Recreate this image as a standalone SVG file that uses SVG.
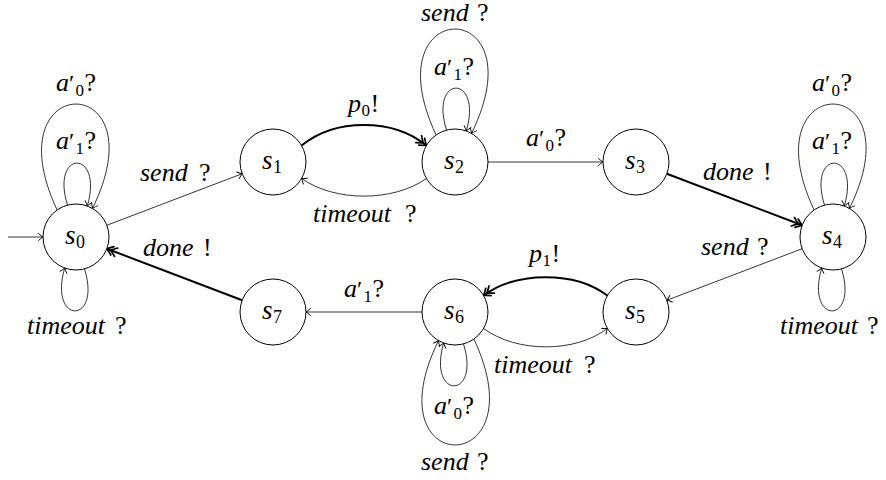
<svg xmlns="http://www.w3.org/2000/svg" width="886" height="480" viewBox="0 0 886 480">
<style>
.n{fill:#fff;stroke:#000;stroke-width:1}
.e{fill:none;stroke:#000;stroke-width:0.8;marker-end:url(#ar)}
.t{fill:none;stroke:#000;stroke-width:2;marker-end:url(#at)}
</style>
<defs>
<marker id="ar" markerUnits="userSpaceOnUse" markerWidth="12" markerHeight="12" viewBox="-11 -6 12 12" refX="0" refY="0" orient="auto" overflow="visible">
<path d="M-4.5,-3.5 Q-1.5,-0.8 0,0 Q-1.5,0.8 -4.5,3.5" fill="none" stroke="#000" stroke-width="0.9" stroke-linecap="round"/>
</marker>
<marker id="at" markerUnits="userSpaceOnUse" markerWidth="14" markerHeight="14" viewBox="-12 -7 14 14" refX="0" refY="0" orient="auto" overflow="visible">
<path d="M-6,-4.5 Q-2,-1.2 0,0 Q-2,1.2 -6,4.5 M-10,-4.5 Q-6,-1.2 -4,0 Q-6,1.2 -10,4.5" fill="none" stroke="#000" stroke-width="1.7" stroke-linecap="round"/>
</marker>
</defs>
<rect width="886" height="480" fill="#fff"/>
<g id="connectors">
<path class="e" d="M8,237 L43,237"/>
<path class="e" d="M106.8,225.3 L242.2,173.7"/>
<path class="t" d="M301.6,145.5 C335,118 393,118 426.4,145.5"/>
<path class="e" d="M426.4,178.5 C393,202 335,202 301.6,178.5"/>
<path class="e" d="M488,162 L603,162"/>
<path class="t" d="M666.8,173.7 L802.2,225.3"/>
<path class="e" d="M802.2,248.7 L666.8,300.3"/>
<path class="t" d="M607.4,295.5 C575,271 517,271 483.6,295.5"/>
<path class="e" d="M483.6,328.5 C517,353 575,353 607.4,328.5"/>
<path class="e" d="M422,312 L306,312"/>
<path class="t" d="M242.2,300.3 L106.8,248.7"/>
<g transform="translate(76,237)">
<path class="e" d="M-8.5,-31.9 C-26,-88 28,-88 11.3,-31"/>
<path class="e" d="M-18.9,-27 C-85,-168 85,-168 16.5,-28.6"/>
<path class="e" transform="rotate(180)" d="M-8.5,-31.9 C-26,-88 28,-88 11.3,-31"/>
</g>
<g transform="translate(455,162)">
<path class="e" d="M-8.5,-31.9 C-26,-88 28,-88 11.3,-31"/>
<path class="e" d="M-18.9,-27 C-85,-168 85,-168 16.5,-28.6"/>
</g>
<g transform="translate(833,237)">
<path class="e" d="M-8.5,-31.9 C-26,-88 28,-88 11.3,-31"/>
<path class="e" d="M-18.9,-27 C-85,-168 85,-168 16.5,-28.6"/>
<path class="e" transform="rotate(180)" d="M-8.5,-31.9 C-26,-88 28,-88 11.3,-31"/>
</g>
<g transform="translate(455,312) rotate(180)">
<path class="e" d="M-8.5,-31.9 C-26,-88 28,-88 11.3,-31"/>
<path class="e" d="M-18.9,-27 C-85,-168 85,-168 16.5,-28.6"/>
</g>
<g id="edge-labels">
<text x="140" y="181" font-family="'Liberation Serif', serif" font-size="26" font-style="italic">send</text>
<text x="199" y="181" font-family="'Liberation Serif', serif" font-size="26">?</text>
<text x="143" y="256" font-family="'Liberation Serif', serif" font-size="26" font-style="italic">done</text>
<text x="203" y="256" font-family="'Liberation Serif', serif" font-size="26">!</text>
<text x="348" y="112" font-family="'Liberation Serif', serif" font-size="26" font-style="italic">p</text>
<text x="361.5" y="116" font-family="'Liberation Serif', serif" font-size="17">0</text>
<text x="370.5" y="112" font-family="'Liberation Serif', serif" font-size="26">!</text>
<text x="313" y="222" font-family="'Liberation Serif', serif" font-size="26" font-style="italic">timeout</text>
<text x="405" y="222" font-family="'Liberation Serif', serif" font-size="26">?</text>
<text x="526" y="146" font-family="'Liberation Serif', serif" font-size="26" font-style="italic">a</text>
<text x="539" y="146" font-family="'Liberation Serif', serif" font-size="24">′</text>
<text x="545.5" y="151" font-family="'Liberation Serif', serif" font-size="17">0</text>
<text x="554.5" y="146" font-family="'Liberation Serif', serif" font-size="26">?</text>
<text x="703" y="180" font-family="'Liberation Serif', serif" font-size="26" font-style="italic">done</text>
<text x="763" y="180" font-family="'Liberation Serif', serif" font-size="26">!</text>
<text x="701" y="255" font-family="'Liberation Serif', serif" font-size="26" font-style="italic">send</text>
<text x="757" y="255" font-family="'Liberation Serif', serif" font-size="26">?</text>
<text x="529" y="262" font-family="'Liberation Serif', serif" font-size="26" font-style="italic">p</text>
<text x="542.5" y="266" font-family="'Liberation Serif', serif" font-size="17">1</text>
<text x="551.5" y="262" font-family="'Liberation Serif', serif" font-size="26">!</text>
<text x="494" y="373" font-family="'Liberation Serif', serif" font-size="26" font-style="italic">timeout</text>
<text x="584" y="373" font-family="'Liberation Serif', serif" font-size="26">?</text>
<text x="344" y="297" font-family="'Liberation Serif', serif" font-size="26" font-style="italic">a</text>
<text x="357" y="297" font-family="'Liberation Serif', serif" font-size="24">′</text>
<text x="363.5" y="302" font-family="'Liberation Serif', serif" font-size="17">1</text>
<text x="372.5" y="297" font-family="'Liberation Serif', serif" font-size="26">?</text>
<text x="56" y="91" font-family="'Liberation Serif', serif" font-size="26" font-style="italic">a</text>
<text x="69" y="91" font-family="'Liberation Serif', serif" font-size="24">′</text>
<text x="75.5" y="96" font-family="'Liberation Serif', serif" font-size="17">0</text>
<text x="84.5" y="91" font-family="'Liberation Serif', serif" font-size="26">?</text>
<text x="56" y="149" font-family="'Liberation Serif', serif" font-size="26" font-style="italic">a</text>
<text x="69" y="149" font-family="'Liberation Serif', serif" font-size="24">′</text>
<text x="75.5" y="154" font-family="'Liberation Serif', serif" font-size="17">1</text>
<text x="84.5" y="149" font-family="'Liberation Serif', serif" font-size="26">?</text>
<text x="27" y="334" font-family="'Liberation Serif', serif" font-size="26" font-style="italic">timeout</text>
<text x="115" y="334" font-family="'Liberation Serif', serif" font-size="26">?</text>
<text x="421" y="21" font-family="'Liberation Serif', serif" font-size="26" font-style="italic">send</text>
<text x="477" y="21" font-family="'Liberation Serif', serif" font-size="26">?</text>
<text x="434" y="75" font-family="'Liberation Serif', serif" font-size="26" font-style="italic">a</text>
<text x="447" y="75" font-family="'Liberation Serif', serif" font-size="24">′</text>
<text x="453.5" y="80" font-family="'Liberation Serif', serif" font-size="17">1</text>
<text x="462.5" y="75" font-family="'Liberation Serif', serif" font-size="26">?</text>
<text x="812" y="91" font-family="'Liberation Serif', serif" font-size="26" font-style="italic">a</text>
<text x="825" y="91" font-family="'Liberation Serif', serif" font-size="24">′</text>
<text x="831.5" y="96" font-family="'Liberation Serif', serif" font-size="17">0</text>
<text x="840.5" y="91" font-family="'Liberation Serif', serif" font-size="26">?</text>
<text x="812" y="149" font-family="'Liberation Serif', serif" font-size="26" font-style="italic">a</text>
<text x="825" y="149" font-family="'Liberation Serif', serif" font-size="24">′</text>
<text x="831.5" y="154" font-family="'Liberation Serif', serif" font-size="17">1</text>
<text x="840.5" y="149" font-family="'Liberation Serif', serif" font-size="26">?</text>
<text x="780" y="334" font-family="'Liberation Serif', serif" font-size="26" font-style="italic">timeout</text>
<text x="867" y="334" font-family="'Liberation Serif', serif" font-size="26">?</text>
<text x="434" y="414" font-family="'Liberation Serif', serif" font-size="26" font-style="italic">a</text>
<text x="447" y="414" font-family="'Liberation Serif', serif" font-size="24">′</text>
<text x="453.5" y="419" font-family="'Liberation Serif', serif" font-size="17">0</text>
<text x="462.5" y="414" font-family="'Liberation Serif', serif" font-size="26">?</text>
<text x="421" y="470" font-family="'Liberation Serif', serif" font-size="26" font-style="italic">send</text>
<text x="477" y="470" font-family="'Liberation Serif', serif" font-size="26">?</text>
</g>
</g>
<g id="nodes">
<g id="s0"><circle class="n" cx="76" cy="237" r="33"/><text x="65" y="244" font-family="'Liberation Serif', serif" font-size="27" font-style="italic">s</text><text x="76" y="248" font-family="'Liberation Serif', serif" font-size="18">0</text></g>
<g id="s1"><circle class="n" cx="273" cy="162" r="33"/><text x="262" y="169" font-family="'Liberation Serif', serif" font-size="27" font-style="italic">s</text><text x="273" y="173" font-family="'Liberation Serif', serif" font-size="18">1</text></g>
<g id="s2"><circle class="n" cx="455" cy="162" r="33"/><text x="444" y="169" font-family="'Liberation Serif', serif" font-size="27" font-style="italic">s</text><text x="455" y="173" font-family="'Liberation Serif', serif" font-size="18">2</text></g>
<g id="s3"><circle class="n" cx="636" cy="162" r="33"/><text x="625" y="169" font-family="'Liberation Serif', serif" font-size="27" font-style="italic">s</text><text x="636" y="173" font-family="'Liberation Serif', serif" font-size="18">3</text></g>
<g id="s4"><circle class="n" cx="833" cy="237" r="33"/><text x="822" y="244" font-family="'Liberation Serif', serif" font-size="27" font-style="italic">s</text><text x="833" y="248" font-family="'Liberation Serif', serif" font-size="18">4</text></g>
<g id="s5"><circle class="n" cx="636" cy="312" r="33"/><text x="625" y="319" font-family="'Liberation Serif', serif" font-size="27" font-style="italic">s</text><text x="636" y="323" font-family="'Liberation Serif', serif" font-size="18">5</text></g>
<g id="s6"><circle class="n" cx="455" cy="312" r="33"/><text x="444" y="319" font-family="'Liberation Serif', serif" font-size="27" font-style="italic">s</text><text x="455" y="323" font-family="'Liberation Serif', serif" font-size="18">6</text></g>
<g id="s7"><circle class="n" cx="273" cy="312" r="33"/><text x="262" y="319" font-family="'Liberation Serif', serif" font-size="27" font-style="italic">s</text><text x="273" y="323" font-family="'Liberation Serif', serif" font-size="18">7</text></g>
</g>
</svg>
